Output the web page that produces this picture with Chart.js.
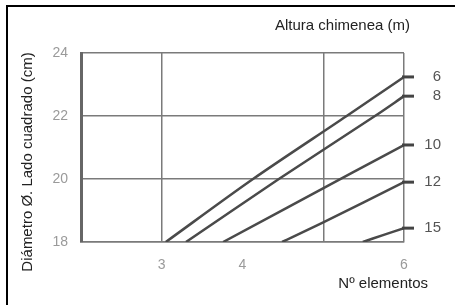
<!DOCTYPE html>
<html>
<head>
<meta charset="utf-8">
<script src="https://cdn.jsdelivr.net/npm/chart.js@4.4.1/dist/chart.umd.min.js"></script>
<style>
  body { margin: 0; background: #fff; }
  #frame { position: absolute; left: 6px; top: 5px; width: 460px; height: 310px; border-left: 2px solid #000; border-top: 2px solid #000; }
  canvas { position: absolute; left: 0; top: 0; }
</style>
</head>
<body>
<div id="frame"></div>
<canvas id="chimney" width="455" height="305"></canvas>
<script>
// chimney heights (m), one curve each
const heights = ['6', '8', '10', '12', '15'];

// Nº elementos (x) and diameter in cm (y)
const xH6 = [3.05, 4.13, 5.29, 6];
const yH6 = [18, 20, 22, 23.24];
const xH8 = [3.3, 4.45, 5.64, 6];
const yH8 = [18, 20, 22, 22.63];
const xH10 = [3.76, 5.36, 6];
const yH10 = [18, 20.2, 21.08];
const xH12 = [4.49, 5, 6];
const yH12 = [18, 18.62, 19.9];
const xH15 = [5.49, 5.74, 6];
const yH15 = [18, 18.22, 18.44];

const xTicksShown = [3, 4, 6];
const xGridAt = [3, 5, 6];

const seriesX = [xH6, xH8, xH10, xH12, xH15];
const seriesY = [yH6, yH8, yH10, yH12, yH15];

const FONT = "'Liberation Sans', Arial, sans-serif";

const datasets = heights.map(function(h, i) {
  return {
    label: h + ' m',
    data: seriesX[i].map(function(x, j) { return { x: x, y: seriesY[i][j] }; }),
    borderColor: '#4a4a4a',
    borderWidth: 2.5,
    pointRadius: 0,
    showLine: true,
    tension: 0.3
  };
});

const labelsPlugin = {
  id: 'labelsPlugin',
  afterDatasetsDraw(chart) {
    const ctx = chart.ctx;
    const area = chart.chartArea;
    const xs = chart.scales.x;
    const ys = chart.scales.y;
    ctx.save();
    // end stubs and height labels
    heights.forEach(function(h, i) {
      const yv = seriesY[i][seriesY[i].length - 1];
      const py = ys.getPixelForValue(yv);
      const px = xs.getPixelForValue(6);
      ctx.strokeStyle = '#444';
      ctx.lineWidth = 3;
      ctx.beginPath();
      ctx.moveTo(px - 2, py);
      ctx.lineTo(px + 10, py);
      ctx.stroke();
      ctx.fillStyle = '#555';
      ctx.font = '15px ' + FONT;
      ctx.textAlign = 'right';
      ctx.textBaseline = 'middle';
      ctx.fillText(h, area.right + 37, py);
    });
    // titles
    ctx.fillStyle = '#222';
    ctx.font = '15px ' + FONT;
    ctx.textAlign = 'right';
    ctx.textBaseline = 'middle';
    ctx.fillText('Altura chimenea (m)', area.right + 6, 26);
    ctx.fillText('Nº elementos', area.right + 24, 284);
    ctx.translate(28, 162);
    ctx.rotate(-Math.PI / 2);
    ctx.textAlign = 'center';
    ctx.fillText('Diámetro Ø. Lado cuadrado (cm)', 0, 0);
    ctx.restore();
  }
};

new Chart(document.getElementById('chimney'), {
  type: 'scatter',
  data: { datasets: datasets },
  options: {
    responsive: false,
    animation: false,
    layout: { padding: { left: 0, top: 53, right: 51, bottom: 0 } },
    plugins: { legend: { display: false }, tooltip: { enabled: false } },
    scales: {
      x: {
        type: 'linear',
        min: 2,
        max: 6,
        afterBuildTicks: function(scale) {
          scale.ticks = [2, 3, 4, 5, 6].map(function(v) { return { value: v }; });
        },
        afterFit: function(scale) { scale.height = 63; },
        ticks: {
          padding: 15,
          color: '#9a9a9a',
          font: { family: FONT, size: 14 },
          maxRotation: 0,
          callback: function(v) { return xTicksShown.indexOf(v) >= 0 ? String(v) : ''; }
        },
        grid: {
          drawTicks: false,
          lineWidth: 1.5,
          color: function(c) { return c.tick && xGridAt.indexOf(c.tick.value) >= 0 ? '#7a7a7a' : 'rgba(0,0,0,0)'; }
        },
        border: { color: '#7a7a7a', width: 1.5 }
      },
      y: {
        min: 18,
        max: 24,
        afterFit: function(scale) { scale.width = 81; },
        ticks: {
          stepSize: 2,
          padding: 13,
          color: '#9a9a9a',
          font: { family: FONT, size: 14 }
        },
        grid: { drawTicks: false, lineWidth: 1.5, color: '#7a7a7a' },
        border: { color: '#666', width: 3 }
      }
    }
  },
  plugins: [labelsPlugin]
});
</script>
</body>
</html>
